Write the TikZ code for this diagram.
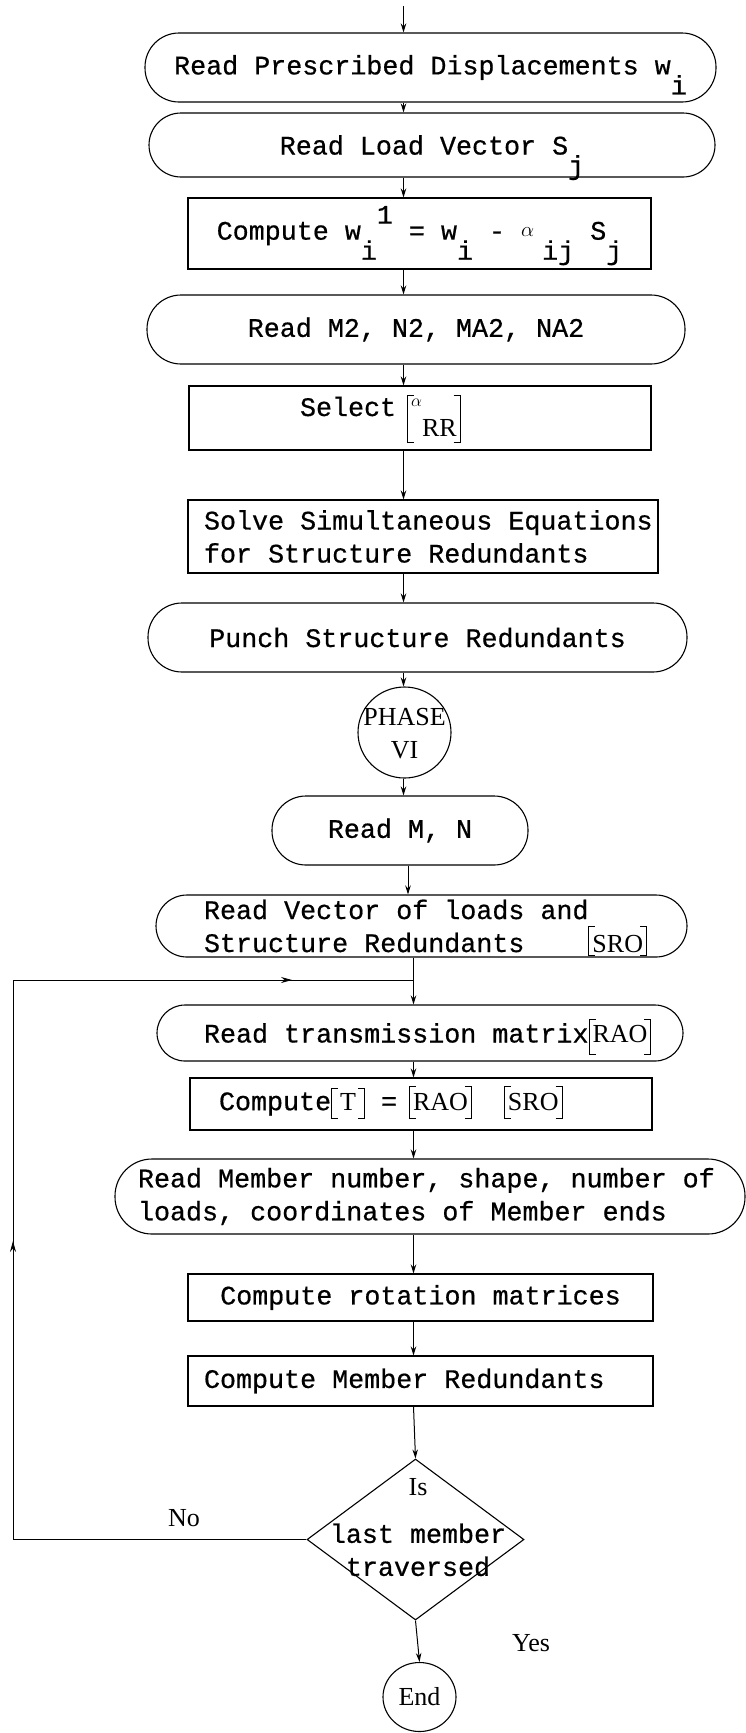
\documentclass[tikz,border=0pt]{standalone}
\usepackage{fontspec}
\usetikzlibrary{shapes.geometric,arrows.meta,decorations.markings,calc}
\newfontfamily\twfam[FakeBold=0.6]{Liberation Mono}
\newfontfamily\srfam{Liberation Serif}
\newcommand\TW{\twfam\fontsize{26.7}{33}\selectfont}
\newcommand\SR{\srfam\fontsize{26}{33}\selectfont}
\newcommand\ns{\spaceskip=0pt\xspaceskip=0pt\relax}
\newcommand\dn[1]{\smash{\raisebox{-0.75em}{#1}}}
\newcommand\up[1]{\smash{\raisebox{0.6em}{#1}}}
\newcommand\alf{{\fontsize{21}{21}\selectfont\raisebox{3pt}{$\alpha$}}}
\newcommand\sqbr[3]{%
  \smash{%
  \rule[-#1]{1pt}{\dimexpr #1+#2\relax}%
  \rlap{\rule[-#1]{6pt}{1pt}}%
  \rlap{\raisebox{\dimexpr #2-1pt\relax}{\rule{6pt}{1pt}}}%
  \kern3pt{\srfam\fontsize{26}{33}\selectfont #3}\kern3pt
  \llap{\rule[-#1]{6pt}{1pt}}%
  \llap{\raisebox{\dimexpr #2-1pt\relax}{\rule{6pt}{1pt}}}%
  \rule[-#1]{1pt}{\dimexpr #1+#2\relax}}}
\begin{document}
\begin{tikzpicture}[x=1pt,y=-1pt,
  box/.style={draw, line width=1.1pt, rectangle, inner sep=0pt, font=\TW},
  rbox/.style={box, rounded corners=#1},
  conn/.style={line width=1pt, -{Stealth[length=9pt,width=5.5pt]}},
  lbl/.style={font=\SR, inner sep=0pt},
  oval/.style={draw, line width=1.1pt, ellipse, inner sep=0pt}]
\useasboundingbox (0,0) rectangle (746,1733);
\fill[white] (0,0) rectangle (746,1733);

% column coordinates
\coordinate (st) at (403.5,6);
\coordinate (cA) at (403.5,0);
\coordinate (cB) at (408,0);
\coordinate (cC) at (413.5,0);
\coordinate (lx) at (13,0);
\coordinate (jn) at (413.5,980);

% boxes
\node[rbox=34pt, minimum width=571pt, minimum height=69pt] (b1) at (430.5,67.5)
  {Read Prescribed Displacements w\dn{i}};
\node[rbox=32pt, minimum width=566pt, minimum height=64pt] (b2) at (432,145)
  {Read Load Vector S\dn{j}};
\node[box, minimum width=463pt, minimum height=71pt] (b3) at (419.5,233.5)
  {Compute w\dn{i}\up{1} = w\dn{i} - \alf\hspace{8pt}\dn{ij} S\dn{j}};
\node[rbox=34pt, minimum width=538pt, minimum height=69pt] (b4) at (416,329.5)
  {Read M2, N2, MA2, NA2};
\node[box, minimum width=462pt, minimum height=64pt, text width=240pt, align=left,
  text height=12pt, text depth=16pt] (b5) at (420,418)
  {\ns\mbox{Select\hspace{11pt}\sqbr{27pt}{21pt}{{\fontsize{18}{18}\selectfont\raisebox{10pt}{$\alpha$}}\raisebox{-20pt}{RR}}}};
\node[box, minimum width=470pt, minimum height=73pt, text width=438pt, align=left] (b6) at (423,536.5)
  {\ns\mbox{Solve Simultaneous Equations}\\\mbox{for Structure Redundants}};
\node[rbox=34pt, minimum width=539pt, minimum height=69pt] (b7) at (417.5,637.5)
  {Punch Structure Redundants};

\node[oval, minimum width=93pt, minimum height=91pt] (ph) at (404.5,732.5) {};
\node[lbl, align=center] (phtxt) at (404.5,733.5) {PHASE\\VI};

\node[rbox=34pt, minimum width=256pt, minimum height=69pt] (mn) at (400,830.5)
  {Read M, N};
\node[rbox=31pt, minimum width=531pt, minimum height=62pt, text width=435pt, align=left] (vec) at (421.5,926)
  {\ns\mbox{Read Vector of loads and}\\\mbox{Structure Redundants\hspace{64pt}\sqbr{4pt}{26pt}{SRO}}};
\node[rbox=28pt, minimum width=526pt, minimum height=56pt, text width=432pt, align=left] (trans) at (420,1033)
  {\ns\mbox{Read transmission matrix\sqbr{12pt}{24pt}{RAO}}};
\node[box, minimum width=462pt, minimum height=52pt, text width=404pt, align=left] (ct) at (421,1104)
  {\ns\mbox{Compute\sqbr{9pt}{22pt}{\hspace{5pt}T\hspace{5pt}}\ =\hspace{12pt}\sqbr{9pt}{24pt}{RAO}\hspace{32pt}\sqbr{9pt}{24pt}{SRO}}};
\node[rbox=37pt, minimum width=630pt, minimum height=75pt, text width=584pt, align=left] (mem) at (430,1196.5)
  {\ns\mbox{Read Member number, shape, number of}\\\mbox{loads, coordinates of Member ends}};
\node[box, minimum width=465pt, minimum height=47pt] (rot) at (420.5,1297.5)
  {Compute rotation matrices};
\node[box, minimum width=465pt, minimum height=50pt, text width=433pt, align=left] (cmr) at (420.5,1381)
  {\ns\mbox{Compute Member Redundants}};

\node[draw, line width=1.1pt, diamond, minimum width=217pt, minimum height=161pt, inner sep=0pt] (dec) at (415.5,1539.5) {};
\node[font=\TW, align=center, inner sep=0pt] (dectxt) at (418,1527.5)
  {\ns{\SR Is}\\[14pt]\mbox{last member}\\traversed};

\node[lbl] (no) at (184,1518) {No};
\node[lbl] (yes) at (531,1643) {Yes};
\node[oval, minimum width=73pt, minimum height=69pt, font=\SR] (end) at (419.5,1697) {End};

% connectors
\draw[conn] (st) -- (b1.north -| st);
\draw[conn] (b1.south -| cA) -- (b2.north -| cA);
\draw[conn] (b2.south -| cA) -- (b3.north -| cA);
\draw[conn] (b3.south -| cA) -- (b4.north -| cA);
\draw[conn] (b4.south -| cA) -- (b5.north -| cA);
\draw[conn] (b5.south -| cA) -- (b6.north -| cA);
\draw[conn] (b6.south -| cA) -- (b7.north -| cA);
\draw[conn] (b7.south -| cA) -- (ph.north -| cA);
\draw[conn] (ph.south -| cA) -- (mn.north -| cA);
\draw[conn] (mn.south -| cB) -- (vec.north -| cB);
\draw[conn] (vec.south -| cC) -- (trans.north -| cC);
\draw[conn] (trans.south -| cC) -- (ct.north -| cC);
\draw[conn] (ct.south -| cC) -- (mem.north -| cC);
\draw[conn] (mem.south -| cC) -- (rot.north -| cC);
\draw[conn] (rot.south -| cC) -- (cmr.north -| cC);
\draw[conn] (cmr.south -| cC) -- (dec.north);
\draw[conn] (dec.south) -- (end.north);

% loop back
\draw[line width=1pt, postaction={decorate},
  decoration={markings,
    mark=at position 592pt with {\arrow{Stealth[length=11pt,width=6pt]}},
    mark=at position 1132pt with {\arrow{Stealth[length=11pt,width=6pt]}}}]
  (dec.west) -- (dec.west -| lx) -- (jn -| lx) -- (jn);
\end{tikzpicture}
\end{document}
